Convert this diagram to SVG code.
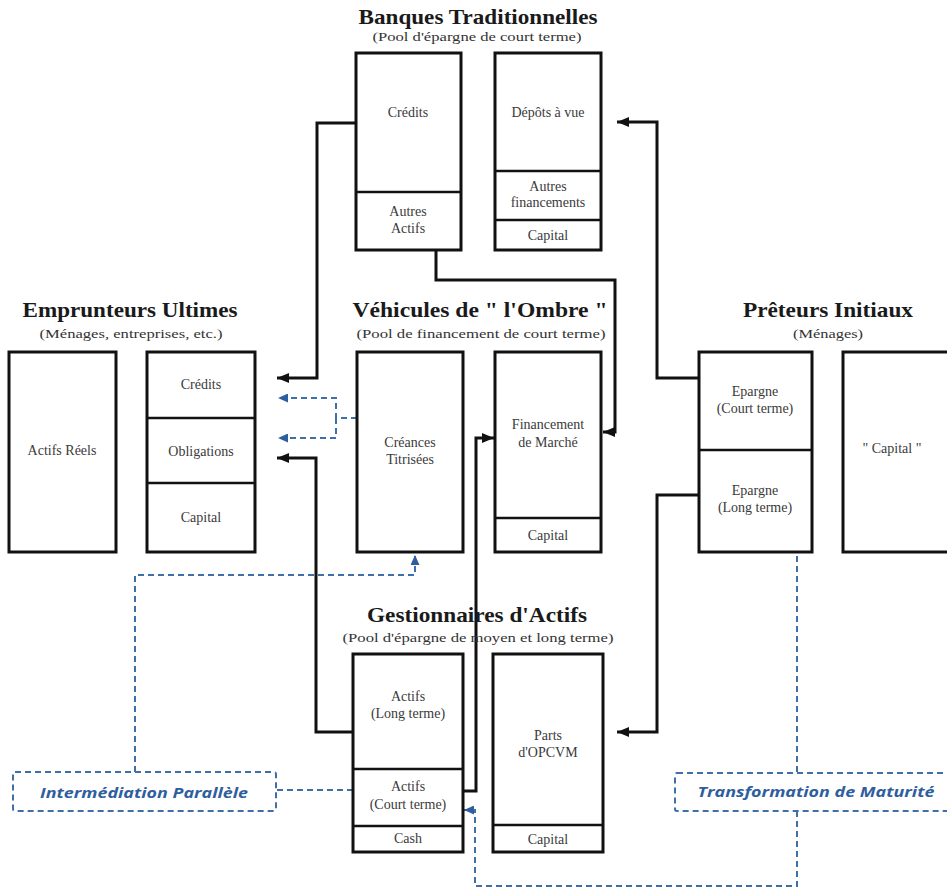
<svg xmlns="http://www.w3.org/2000/svg" width="947" height="889" viewBox="0 0 947 889">
<style>
.bg{fill:#ffffff}
.box{fill:#ffffff;stroke:#111;stroke-width:3}
.div{stroke:#111;stroke-width:2.5;fill:none}
.title{font-family:"Liberation Serif",serif;font-weight:bold;font-size:21px;fill:#1a1a1a;text-anchor:middle}
.sub{font-family:"Liberation Serif",serif;font-size:13px;fill:#333;text-anchor:middle}
.t{font-family:"Liberation Serif",serif;font-size:14px;fill:#3a3a3a;text-anchor:middle}
.con{fill:none;stroke:#111;stroke-width:3}
.dash{fill:none;stroke:#3f6fa8;stroke-width:2;stroke-dasharray:6 4}
.lbl{fill:#ffffff;stroke:#3f6fa8;stroke-width:2;stroke-dasharray:6 4}
.blue{font-family:"Open Sans","DejaVu Sans",sans-serif;font-weight:bold;font-style:italic;font-size:15px;fill:#2f5e9e;text-anchor:middle}
</style>
<defs>
<marker id="ah" viewBox="0 0 12 10" markerWidth="12" markerHeight="10" refX="12" refY="5" orient="auto" markerUnits="userSpaceOnUse">
<path d="M0,0 L12,5 L0,10 z" fill="#111"/>
</marker>
<marker id="bh" viewBox="0 0 10 9" markerWidth="10" markerHeight="9" refX="10" refY="4.5" orient="auto" markerUnits="userSpaceOnUse">
<path d="M0,0 L10,4.5 L0,9 z" fill="#2f5e9e"/>
</marker>
</defs>
<rect class="bg" x="0" y="0" width="947" height="889"/>

<g id="connectors">
<path class="con" d="M356,123 H317 V378 H277" marker-end="url(#ah)"/>
<path class="con" d="M699,378 H657 V122 H617" marker-end="url(#ah)"/>
<path class="con" d="M436,251 V280 H615 V432 H603" marker-end="url(#ah)"/>
<path class="con" d="M353,732 H316 V458 H277" marker-end="url(#ah)"/>
<path class="con" d="M463,791 H476 V438 H494" marker-end="url(#ah)"/>
<path class="con" d="M699,495 H657 V732 H617" marker-end="url(#ah)"/>
<path class="dash" d="M357,418 H336 V398 H278" marker-end="url(#bh)"/>
<path class="dash" d="M336,418 V438 H278" marker-end="url(#bh)"/>
<path class="dash" d="M135,772 V575 H415 V555" marker-end="url(#bh)"/>
<path class="dash" d="M277,790 H353"/>
<path class="dash" d="M797,556 V773"/>
<path class="dash" d="M797,811 V886 H475 V810 H464" marker-end="url(#bh)"/>
</g>

<g id="banques">
<text class="title" x="478" y="24" textLength="239" lengthAdjust="spacingAndGlyphs">Banques Traditionnelles</text>
<text class="sub" x="477" y="41" textLength="209" lengthAdjust="spacingAndGlyphs">(Pool d'épargne de court terme)</text>
<g id="bt-actif">
<rect class="box" x="356" y="53" width="105" height="197"/>
<line class="div" x1="356" y1="192" x2="461" y2="192"/>
<text class="t" x="408" y="117">Crédits</text>
<text class="t" x="408" y="216">Autres</text>
<text class="t" x="408" y="233">Actifs</text>
</g>
<g id="bt-passif">
<rect class="box" x="495" y="53" width="106" height="197"/>
<line class="div" x1="495" y1="171" x2="601" y2="171"/>
<line class="div" x1="495" y1="220" x2="601" y2="220"/>
<text class="t" x="548" y="117">Dépôts à vue</text>
<text class="t" x="548" y="191">Autres</text>
<text class="t" x="548" y="207">financements</text>
<text class="t" x="548" y="240">Capital</text>
</g>
</g>

<g id="emprunteurs">
<text class="title" x="130" y="317" textLength="215" lengthAdjust="spacingAndGlyphs">Emprunteurs Ultimes</text>
<text class="sub" x="131" y="338" textLength="183" lengthAdjust="spacingAndGlyphs">(Ménages, entreprises, etc.)</text>
<g id="eu-actif">
<rect class="box" x="9" y="352" width="107" height="200"/>
<text class="t" x="62" y="455">Actifs Réels</text>
</g>
<g id="eu-passif">
<rect class="box" x="147" y="352" width="108" height="200"/>
<line class="div" x1="147" y1="418" x2="255" y2="418"/>
<line class="div" x1="147" y1="483" x2="255" y2="483"/>
<text class="t" x="201" y="389">Crédits</text>
<text class="t" x="201" y="456">Obligations</text>
<text class="t" x="201" y="522">Capital</text>
</g>
</g>

<g id="vehicules">
<text class="title" x="480" y="317" textLength="255" lengthAdjust="spacingAndGlyphs" style="font-size:22px">Véhicules de " l'Ombre "</text>
<text class="sub" x="481" y="338" textLength="249" lengthAdjust="spacingAndGlyphs">(Pool de financement de court terme)</text>
<g id="vo-actif">
<rect class="box" x="357" y="352" width="106" height="200"/>
<text class="t" x="410" y="447">Créances</text>
<text class="t" x="410" y="464">Titrisées</text>
</g>
<g id="vo-passif">
<rect class="box" x="495" y="352" width="106" height="200"/>
<line class="div" x1="495" y1="518" x2="601" y2="518"/>
<text class="t" x="548" y="429">Financement</text>
<text class="t" x="548" y="447">de Marché</text>
<text class="t" x="548" y="540">Capital</text>
</g>
</g>

<g id="preteurs">
<text class="title" x="828" y="317" textLength="170" lengthAdjust="spacingAndGlyphs">Prêteurs Initiaux</text>
<text class="sub" x="828" y="338" textLength="70" lengthAdjust="spacingAndGlyphs">(Ménages)</text>
<g id="pi-actif">
<rect class="box" x="699" y="352" width="113" height="200"/>
<line class="div" x1="699" y1="450" x2="812" y2="450"/>
<text class="t" x="755" y="396">Epargne</text>
<text class="t" x="755" y="413">(Court terme)</text>
<text class="t" x="755" y="495">Epargne</text>
<text class="t" x="755" y="512">(Long terme)</text>
</g>
<g id="pi-passif">
<rect class="box" x="843" y="352" width="115" height="200"/>
<text class="t" x="892" y="453">" Capital "</text>
</g>
</g>

<g id="gestionnaires">
<text class="title" x="477" y="622" textLength="220" lengthAdjust="spacingAndGlyphs">Gestionnaires d'Actifs</text>
<text class="sub" x="478" y="642" textLength="271" lengthAdjust="spacingAndGlyphs">(Pool d'épargne de moyen et long terme)</text>
<g id="ga-actif">
<rect class="box" x="353" y="654" width="110" height="198"/>
<line class="div" x1="353" y1="769" x2="463" y2="769"/>
<line class="div" x1="353" y1="826" x2="463" y2="826"/>
<text class="t" x="408" y="701">Actifs</text>
<text class="t" x="408" y="718">(Long terme)</text>
<text class="t" x="408" y="791">Actifs</text>
<text class="t" x="408" y="809">(Court terme)</text>
<text class="t" x="408" y="843">Cash</text>
</g>
<g id="ga-passif">
<rect class="box" x="493" y="654" width="110" height="198"/>
<line class="div" x1="493" y1="825" x2="603" y2="825"/>
<text class="t" x="548" y="740">Parts</text>
<text class="t" x="548" y="757">d'OPCVM</text>
<text class="t" x="548" y="844">Capital</text>
</g>
</g>

<g id="intermediation">
<rect class="lbl" x="13" y="772" width="263" height="39" rx="2"/>
<text class="blue" x="144" y="798" textLength="208" lengthAdjust="spacingAndGlyphs">Intermédiation Parallèle</text>
</g>
<g id="transformation">
<rect class="lbl" x="675" y="773" width="290" height="38" rx="2"/>
<text class="blue" x="816" y="797" textLength="237" lengthAdjust="spacingAndGlyphs">Transformation de Maturité</text>
</g>
</svg>
